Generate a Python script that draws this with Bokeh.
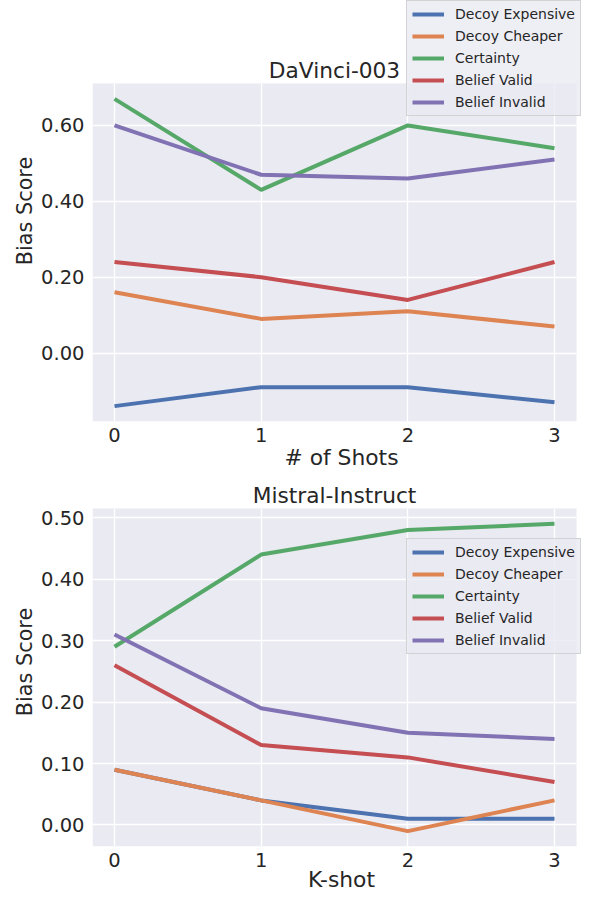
from bokeh.plotting import figure
from bokeh.models import (Legend, LegendItem, FixedTicker, PrintfTickFormatter, Range1d,
                          BoxAnnotation, Label)
from bokeh.layouts import column
from bokeh.embed import file_html
from bokeh.resources import INLINE

shots = [0, 1, 2, 3]
series_names = ["Decoy Expensive", "Decoy Cheaper", "Certainty", "Belief Valid", "Belief Invalid"]
colors = ["#4c72b0", "#dd8452", "#55a868", "#c44e52", "#8172b3"]

# DaVinci-003
davinci_decoy_expensive = [-0.14, -0.09, -0.09, -0.13]
davinci_decoy_cheaper = [0.16, 0.09, 0.11, 0.07]
davinci_certainty = [0.67, 0.43, 0.60, 0.54]
davinci_belief_valid = [0.24, 0.20, 0.14, 0.24]
davinci_belief_invalid = [0.60, 0.47, 0.46, 0.51]
davinci_yticks = [0.0, 0.2, 0.4, 0.6]

# Mistral-Instruct
mistral_decoy_expensive = [0.09, 0.04, 0.01, 0.01]
mistral_decoy_cheaper = [0.09, 0.04, -0.01, 0.04]
mistral_certainty = [0.29, 0.44, 0.48, 0.49]
mistral_belief_valid = [0.26, 0.13, 0.11, 0.07]
mistral_belief_invalid = [0.31, 0.19, 0.15, 0.14]
mistral_yticks = [0.0, 0.1, 0.2, 0.3, 0.4, 0.5]

FONT = "DejaVu Sans"
TXT = "#262626"
BG = "#eaeaf2"

W = 592
LEFT = 92          # left edge of grey plotting area
AREA_W = 484       # width of grey plotting area
FRAME_RIGHT = 590  # frame extends right so the legend is not clipped


def make_plot(title, xlabel, series, yticks, height, area_top, area_h, legend_loc,
              tick_standoff, label_standoff):
    allv = [v for s in series for v in s]
    lo, hi = min(allv), max(allv)
    m = (hi - lo) * 0.05
    y_lo, y_hi = lo - m, hi + m
    x_lo, x_hi = -0.15, 3.15
    sx = AREA_W / (x_hi - x_lo)
    sy = area_h / (y_hi - y_lo)
    x_end = x_hi + (FRAME_RIGHT - LEFT - AREA_W) / sx
    y_end = y_hi + area_top / sy
    bottom_border = height - area_top - area_h

    p = figure(width=W, height=height, output_backend="svg", toolbar_location=None,
               title=None,
               x_range=Range1d(x_lo, x_end), y_range=Range1d(y_lo, y_end),
               min_border_left=LEFT, min_border_right=W - FRAME_RIGHT, min_border_top=0,
               min_border_bottom=bottom_border)
    p.background_fill_color = "white"
    p.border_fill_color = "white"
    p.outline_line_color = None

    p.add_layout(BoxAnnotation(left=x_lo, right=x_hi, bottom=y_lo, top=y_hi,
                               fill_color=BG, fill_alpha=1.0, line_color=None,
                               level="image"))
    p.xgrid[0].cross_bounds = (y_lo, y_hi)
    p.ygrid[0].cross_bounds = (x_lo, x_hi)
    for g in (p.xgrid[0], p.ygrid[0]):
        g.grid_line_color = "white"
        g.grid_line_width = 1.3

    p.xaxis.ticker = FixedTicker(ticks=shots)
    p.yaxis.ticker = FixedTicker(ticks=yticks)
    p.yaxis.formatter = PrintfTickFormatter(format="%.2f")
    p.xaxis.bounds = (x_lo, x_hi)
    p.yaxis.bounds = (y_lo, y_hi)
    for ax in (p.xaxis[0], p.yaxis[0]):
        ax.axis_line_color = None
        ax.major_tick_line_color = None
        ax.minor_tick_line_color = None
        ax.major_tick_out = 0
        ax.major_tick_in = 0
        ax.major_label_text_font = FONT
        ax.major_label_text_font_size = "19.5px"
        ax.major_label_text_color = TXT
        ax.axis_label_text_font = FONT
        ax.axis_label_text_font_style = "normal"
        ax.axis_label_text_color = TXT
    p.xaxis.axis_label_text_font_size = "21.8px"
    p.yaxis.axis_label_text_font_size = "20.8px"
    p.xaxis.axis_label = xlabel
    p.yaxis.axis_label = "Bias Score"
    p.yaxis.major_label_standoff = 8
    p.xaxis.major_label_standoff = tick_standoff
    p.yaxis.axis_label_standoff = 1
    p.xaxis.axis_label_standoff = label_standoff

    p.add_layout(Label(x=(x_lo + x_hi) / 2, y=y_hi, text=title, y_offset=13,
                       text_align="center", text_baseline="middle",
                       text_font=FONT, text_font_size="21.7px", text_color=TXT))

    items = []
    for name, vals, c in zip(series_names, series, colors):
        r = p.line(shots, vals, line_color=c, line_width=4)
        items.append(LegendItem(label=name, renderers=[r]))
    leg = Legend(items=items, location=legend_loc)
    leg.label_text_font = FONT
    leg.label_text_font_size = "14px"
    leg.label_text_color = TXT
    leg.background_fill_color = BG
    leg.background_fill_alpha = 0.8
    leg.border_line_color = "#cccccc"
    leg.border_line_alpha = 0.8
    leg.padding = 5
    leg.spacing = 6
    leg.glyph_width = 32
    leg.glyph_height = 16
    leg.label_height = 16
    leg.label_standoff = 11
    leg.margin = 0
    p.add_layout(leg)
    return p


p1 = make_plot("DaVinci-003", "# of Shots",
               [davinci_decoy_expensive, davinci_decoy_cheaper, davinci_certainty,
                davinci_belief_valid, davinci_belief_invalid],
               davinci_yticks, 477, 83, 338, (314, 305), 6, 0)
p2 = make_plot("Mistral-Instruct", "K-shot",
               [mistral_decoy_expensive, mistral_decoy_cheaper, mistral_certainty,
                mistral_belief_valid, mistral_belief_invalid],
               mistral_yticks, 420, 31, 338, (314, 192), 6, -3)

layout = column(p1, p2, spacing=0)
open("out.html", "w").write(file_html(layout, INLINE))
